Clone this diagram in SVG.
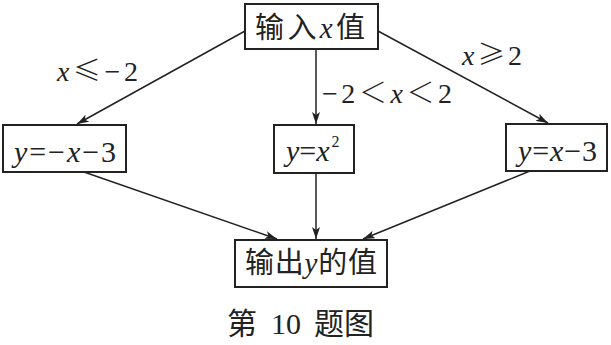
<svg xmlns="http://www.w3.org/2000/svg" width="611" height="345" viewBox="0 0 611 345">
<defs>
<marker id="ah" viewBox="0 0 12 8" refX="12" refY="4" markerWidth="12" markerHeight="8" markerUnits="userSpaceOnUse" orient="auto">
<path d="M0,0 L12,4 L0,8 L3,4 Z" fill="#222"/>
</marker>
<style>
.box{fill:#fff;stroke:#222;stroke-width:2}
.t{font-family:'Liberation Serif','Noto Sans CJK SC',serif;fill:#222}
.cn{font-size:29px}
.m{font-size:30px}
.lb{font-size:28px}
.i{font-style:italic}
.s{font-family:'Noto Sans CJK SC',sans-serif;font-weight:300}
.ln{stroke:#222;stroke-width:1.5;fill:none}
</style>
</defs>
<rect width="611" height="345" fill="#fff"/>
<g id="connectors">
<line class="ln" x1="245" y1="31" x2="77" y2="124" marker-end="url(#ah)"/>
<line class="ln" x1="316" y1="49" x2="316" y2="124" marker-end="url(#ah)"/>
<line class="ln" x1="378" y1="31" x2="548" y2="123" marker-end="url(#ah)"/>
<line class="ln" x1="84" y1="172" x2="277" y2="239" marker-end="url(#ah)"/>
<line class="ln" x1="316" y1="173" x2="316" y2="239" marker-end="url(#ah)"/>
<line class="ln" x1="530" y1="171" x2="363" y2="239" marker-end="url(#ah)"/>
<text class="t lb" x="57" y="81" textLength="81" lengthAdjust="spacing"><tspan class="i">x</tspan><tspan class="s">≤</tspan>−2</text>
<text class="t lb" x="322" y="103" textLength="130" lengthAdjust="spacing">−2<tspan class="s">＜</tspan><tspan class="i">x</tspan><tspan class="s">＜</tspan>2</text>
<text class="t lb" x="462" y="65" textLength="60" lengthAdjust="spacing"><tspan class="i">x</tspan><tspan class="s">≥</tspan>2</text>
</g>
<g id="input">
<rect class="box" x="245" y="4" width="133" height="45"/>
<text class="t cn" x="255" y="38" textLength="110" lengthAdjust="spacing">输入<tspan class="i">x</tspan>值</text>
</g>
<g id="left">
<rect class="box" x="3" y="125" width="123" height="47"/>
<text class="t m" x="14" y="162" textLength="102" lengthAdjust="spacing"><tspan class="i">y</tspan>=−<tspan class="i">x</tspan>−3</text>
</g>
<g id="middle">
<rect class="box" x="274" y="125" width="80" height="48"/>
<text class="t m" x="286" y="161"><tspan class="i">y</tspan>=<tspan class="i">x</tspan><tspan font-size="16" dx="2" dy="-14">2</tspan></text>
</g>
<g id="right">
<rect class="box" x="506" y="124" width="101" height="47"/>
<text class="t m" x="518" y="161" textLength="79" lengthAdjust="spacing"><tspan class="i">y</tspan>=<tspan class="i">x</tspan>−3</text>
</g>
<g id="output">
<rect class="box" x="235" y="240" width="152" height="47"/>
<text class="t cn" x="245" y="273" textLength="132" lengthAdjust="spacing">输出<tspan class="i">y</tspan>的值</text>
</g>
<text class="t" font-size="30" y="334"><tspan x="227">第</tspan><tspan x="271">10</tspan><tspan x="314">题图</tspan></text>
</svg>
